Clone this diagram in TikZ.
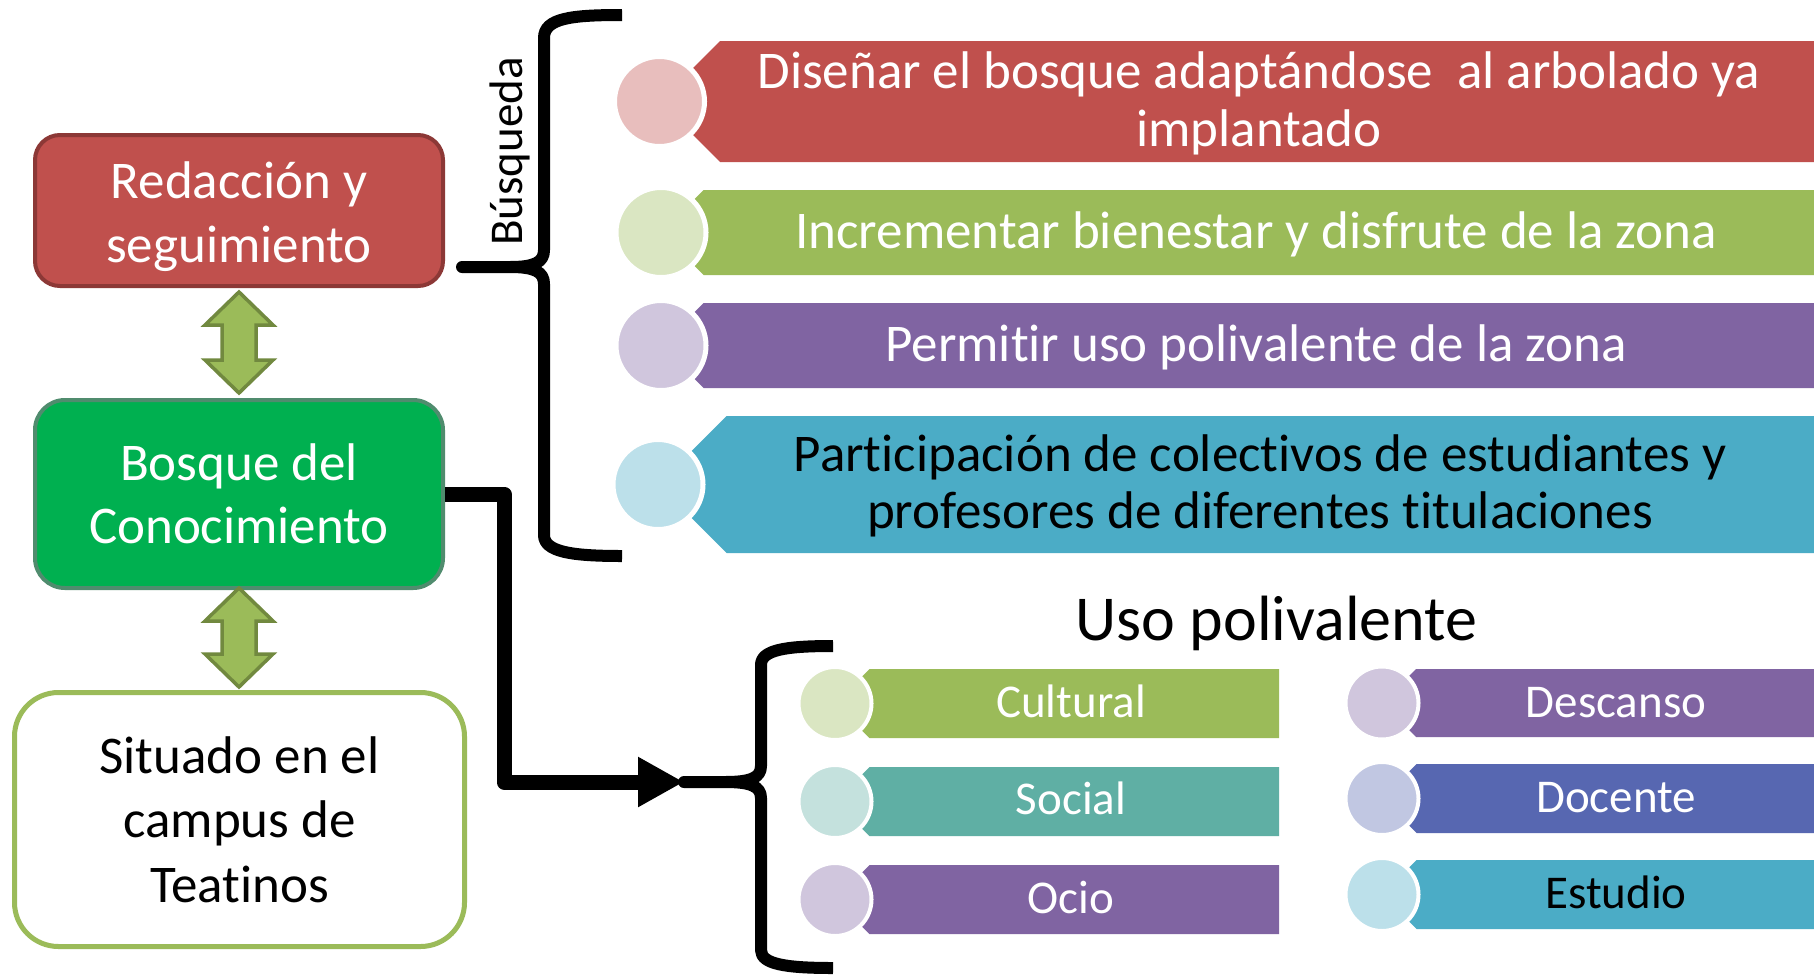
\documentclass[tikz,border=0pt]{standalone}
\usepackage{fontspec}
\setmainfont{Carlito}[Ligatures=CommonOff]
\usetikzlibrary{arrows.meta,calc}
\definecolor{cRed}{HTML}{C0504D}
\definecolor{cRedD}{HTML}{8C3836}
\definecolor{cGreen}{HTML}{00B050}
\definecolor{cGreenD}{HTML}{508C6E}
\definecolor{cOlive}{HTML}{9BBB59}
\definecolor{cOliveD}{HTML}{71893F}
\definecolor{cPurple}{HTML}{8064A2}
\definecolor{cBlue}{HTML}{4BACC6}
\definecolor{cTeal}{HTML}{5FAFA4}
\definecolor{cIndigo}{HTML}{5767B1}
\newcommand\banner[5]{%
  \fill[#1] (#2,{(#3+#4)/2}) -- ({#2+(#4-#3)/2},#3) -- (#5,#3) -- (#5,#4) -- ({#2+(#4-#3)/2},#4) -- cycle;}
\newcommand\dblarrow[2]{%
  \draw[darrow] let \p1=(#1), \p2=(#2) in
  (\x1,\y1) -- (\x1+17pt,\y1-16.5pt) -- (\x1+8.5pt,\y1-16.5pt) -- (\x1+8.5pt,\y2+16.5pt)
  -- (\x1+17pt,\y2+16.5pt) -- (\x1,\y2) -- (\x1-17pt,\y2+16.5pt) -- (\x1-8.5pt,\y2+16.5pt)
  -- (\x1-8.5pt,\y1-16.5pt) -- (\x1-17pt,\y1-16.5pt) -- cycle;}
\newcommand\ml[1]{\begin{tabular}[t]{@{}c@{}}#1\end{tabular}}
\begin{document}
\begin{tikzpicture}[x=0.5pt,y=-0.5pt,
  tx/.style={anchor=base, inner sep=0pt},
  big/.style={font=\fontsize{26.5pt}{29pt}\selectfont},
  small/.style={font=\fontsize{23.5pt}{28pt}\selectfont},
  bigcirc/.style={circle, draw=white, line width=2.5pt, minimum size=45pt, inner sep=0pt},
  smallcirc/.style={circle, draw=white, line width=2pt, minimum size=36.5pt, inner sep=0pt},
  darrow/.style={fill=cOlive, draw=cOliveD, line width=1.75pt, line join=miter},
  bracestyle/.style={draw=black, line width=6pt, line join=round},
  conn/.style={draw=black, line width=7.5pt, line join=round, -{Triangle[length=23pt,width=23.5pt]}}]
\fill[white] (0,0) rectangle (1814,975);
\useasboundingbox (0,0) rectangle (1814,975);

% left boxes
\node[draw=cRedD, fill=cRed, line width=2pt, rounded corners=12.5pt, minimum width=204pt, minimum height=75.5pt, inner sep=0pt] (red) at (239,210.5) {};
\node[draw=cGreenD, fill=cGreen, line width=2pt, rounded corners=15pt, minimum width=204pt, minimum height=94pt, inner sep=0pt] (green) at (239,494) {};
\node[draw=cOlive, fill=white, line width=2.5pt, rounded corners=22pt, minimum width=225pt, minimum height=127pt, inner sep=0pt] (white) at (239.5,819.5) {};
\node[tx, text=white, font=\fontsize{26.5pt}{32pt}\selectfont] (tRed) at (239,198) {\ml{Redacción y\\seguimiento}};
\node[tx, text=white, font=\fontsize{26.5pt}{31.5pt}\selectfont] (tGreen) at (239,480) {\ml{Bosque del\\Conocimiento}};
\node[tx, text=black, font=\fontsize{26.5pt}{32.25pt}\selectfont] (tWhite) at (239.5,773) {\ml{Situado en el\\campus de\\Teatinos}};

% double arrows
\coordinate (a1t) at (239,292);
\coordinate (a1b) at (239,393);
\coordinate (a2t) at (239,588);
\coordinate (a2b) at (239,687);
\dblarrow{a1t}{a1b}
\dblarrow{a2t}{a2b}

% top brace
\draw[bracestyle] (622,15) .. controls (572,15) and (544,18) .. (544,38)
  -- (544,250) .. controls (544,262) and (535,267) .. (510,267) -- (462,267)
  -- (510,267) .. controls (535,267) and (544,272) .. (544,284)
  -- (544,535) .. controls (544,552) and (572,556) .. (622,556);
\node[tx, small, rotate=90] (busq) at (522,151.5) {Búsqueda};

% top banners
\banner{cRed}{659.5}{41}{162}{1814}
\banner{cOlive}{661}{190}{275}{1814}
\banner{cPurple}{661}{303}{388}{1814}
\banner{cBlue}{658}{416}{553}{1814}
\node[bigcirc, fill=cRed!37!white] (c1) at (659.5,101.5) {};
\node[bigcirc, fill=cOlive!37!white] (c2) at (661,232.5) {};
\node[bigcirc, fill=cPurple!37!white] (c3) at (661,345.5) {};
\node[bigcirc, fill=cBlue!37!white] (c4) at (658,484.5) {};
\node[tx, text=white, font=\fontsize{26.5pt}{29pt}\selectfont] (t1) at (1259,88) {\ml{Diseñar el bosque adaptándose~ al arbolado ya\\implantado}};
\node[tx, big, text=white] (t2) at (1256,248) {Incrementar bienestar y disfrute de la zona};
\node[tx, big, text=white] (t3) at (1256,361) {Permitir uso polivalente de la zona};
\node[tx, text=black, font=\fontsize{26.5pt}{28.5pt}\selectfont] (t4) at (1260,471) {\ml{Participación de colectivos de estudiantes y\\profesores de diferentes titulaciones}};

% bottom brace and connector
\coordinate (btip) at (684,782);
\draw[bracestyle] (833,646) .. controls (785,646) and (761,650) .. (761,665)
  -- (761,766) .. controls (761,778) and (750,782) .. (725,782) -- (btip)
  -- (725,782) .. controls (750,782) and (761,786) .. (761,798)
  -- (761,950) .. controls (761,964) and (785,968) .. (833,968);
\draw[conn] (green.east) -| (504,782) -- (btip);

\node[tx, font=\fontsize{32pt}{38pt}\selectfont] (uso) at (1276.5,640) {Uso polivalente};

% small banners
\banner{cOlive}{835}{669}{738}{1279}
\banner{cTeal}{835}{767}{836}{1279}
\banner{cPurple}{835}{865}{934}{1279}
\banner{cPurple}{1382}{669}{737}{1814}
\banner{cIndigo}{1382}{764}{833}{1814}
\banner{cBlue}{1382}{860}{929}{1814}
\node[smallcirc, fill=cOlive!37!white] (s1) at (835,703.5) {};
\node[smallcirc, fill=cTeal!37!white] (s2) at (835,801.5) {};
\node[smallcirc, fill=cPurple!37!white] (s3) at (835,899.5) {};
\node[smallcirc, fill=cPurple!37!white] (s4) at (1382,703) {};
\node[smallcirc, fill=cIndigo!37!white] (s5) at (1382,798.5) {};
\node[smallcirc, fill=cBlue!37!white] (s6) at (1382,894.5) {};
\node[tx, small, text=white] (u1) at (1071,717) {Cultural};
\node[tx, small, text=white] (u2) at (1071,814) {Social};
\node[tx, small, text=white] (u3) at (1071,913) {Ocio};
\node[tx, small, text=white] (u4) at (1616,717) {Descanso};
\node[tx, small, text=white] (u5) at (1616,812) {Docente};
\node[tx, small, text=black] (u6) at (1616,908) {Estudio};
\end{tikzpicture}
\end{document}
